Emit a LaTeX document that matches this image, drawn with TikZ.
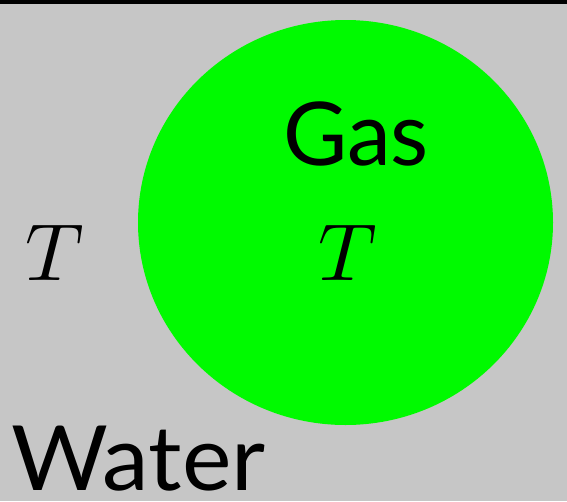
\documentclass[tikz,border=0pt]{standalone}
\usepackage{unicode-math}
\setmainfont{Lato}
\setmathfont{Latin Modern Math}
\usetikzlibrary{shapes.geometric,positioning}
\definecolor{watergrey}{RGB}{198,198,198}
\definecolor{gasgreen}{RGB}{0,250,0}

\begin{document}
\begin{tikzpicture}[x=1pt,y=-1pt,
    label/.style={inner sep=0pt,anchor=base,font=\fontsize{88}{90}\selectfont},
    temp/.style={inner sep=0pt,anchor=base,font=\fontsize{81}{84}\selectfont}]
\useasboundingbox (0,0) rectangle (567,501);
\fill[watergrey] (0,0) rectangle (567,501);
\fill[black] (0,0) rectangle (567,4);
\node[ellipse,fill=gasgreen,minimum width=415pt,minimum height=405pt,inner sep=0pt] (gas) at (345.5,222.5) {};
\node[label] (gaslabel) at (356,165) {Gas};
\node[temp] (tgas) at (348,280) {$T$};
\node[temp] (twater) at (55,280) {$T$};
\node[label,anchor=base west,xscale=1.04,text depth=0pt,font=\fontsize{90}{92}\selectfont] (waterlabel) at (11,490) {Water};
\end{tikzpicture}
\end{document}
